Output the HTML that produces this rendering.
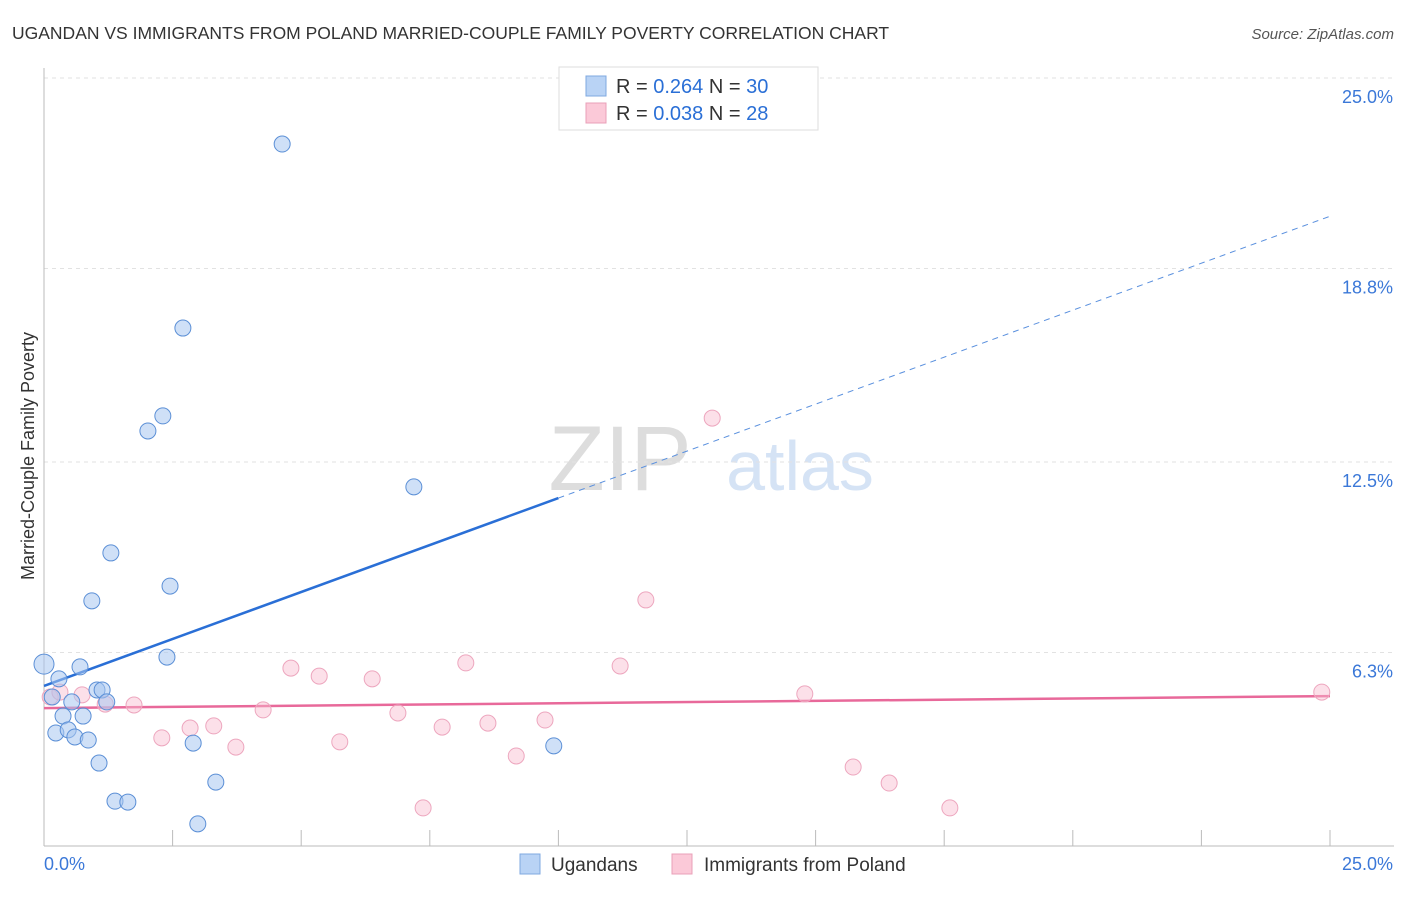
<!DOCTYPE html>
<html><head><meta charset="utf-8"><style>
body{margin:0;background:#fff;font-family:"Liberation Sans",sans-serif;}
svg text{font-family:"Liberation Sans",sans-serif;}
</style></head><body>
<svg id="chart" width="1406" height="892" viewBox="0 0 1406 892">
<text x="12" y="39" font-size="17.5" fill="#333">UGANDAN VS IMMIGRANTS FROM POLAND MARRIED-COUPLE FAMILY POVERTY CORRELATION CHART</text>
<text x="1394" y="39" font-size="15" fill="#555" font-style="italic" text-anchor="end">Source: ZipAtlas.com</text>
<text x="620" y="490" font-size="92" fill="#ddd" font-family="Liberation Serif" text-anchor="middle">ZIP</text>
<text x="800" y="490" font-size="70" fill="#d5e3f5" text-anchor="middle">atlas</text>
<g id="grid"></g>
<g id="axes"></g>
<g id="lines"></g>
<g id="points"></g>
<text transform="translate(34,456) rotate(-90)" font-size="18" fill="#333" text-anchor="middle">Married-Couple Family Poverty</text>
<g>
<rect x="559" y="67" width="259" height="63" fill="#fff" stroke="#ddd"/>
<rect x="586" y="76" width="20" height="20" fill="#b9d3f5" stroke="#7fa8e0"/>
<rect x="586" y="103" width="20" height="20" fill="#fbc9d8" stroke="#eaa0b8"/>
<text x="616" y="93" font-size="20" fill="#333">R = <tspan fill="#2a6fd6">0.264</tspan>   N = <tspan fill="#2a6fd6">30</tspan></text>
<text x="616" y="120" font-size="20" fill="#333">R = <tspan fill="#2a6fd6">0.038</tspan>   N = <tspan fill="#2a6fd6"> 28</tspan></text>
</g>
<g>
<rect x="520" y="854" width="20" height="20" fill="#b9d3f5" stroke="#7fa8e0"/>
<text x="551" y="871" font-size="19" fill="#333">Ugandans</text>
<rect x="672" y="854" width="20" height="20" fill="#fbc9d8" stroke="#eaa0b8"/>
<text x="704" y="871" font-size="19" fill="#333">Immigrants from Poland</text>
</g>
</svg>
<script>
const blueX=[0,0.16,0.29,0.70,0.23,0.37,0.47,0.54,0.60,0.76,0.86,1.03,1.13,1.22,1.07,1.30,0.93,1.38,1.63,2.02,2.31,2.70,2.45,2.39,2.90,3.34,2.99,4.63,7.19,9.91];
const blueY=[5.92,4.85,5.44,5.83,3.68,4.23,3.78,4.69,3.55,4.23,3.45,5.08,5.08,4.69,2.70,9.54,7.98,1.46,1.43,13.51,14.0,16.86,8.46,6.15,3.35,2.08,0.72,22.85,11.69,3.26];
const pinkX=[0.12,0.31,0.74,1.19,1.75,2.29,2.84,3.30,3.73,4.26,4.80,5.35,5.75,6.38,6.88,7.37,7.74,8.20,8.63,9.18,9.74,11.20,11.70,12.99,14.79,15.73,16.43,17.61,24.84];
const pinkY=[4.85,5.01,4.92,4.62,4.59,3.52,3.84,3.91,3.22,4.43,5.79,5.53,3.39,5.44,4.33,1.24,3.87,5.96,4.00,2.93,4.10,5.86,8.01,13.93,4.95,2.57,2.05,1.24,5.01];
const blueTrend=[5.21,20.5];
const pinkTrend=[4.49,4.88];
const yTicks=[25,18.8,12.5,6.3];
const yTickLabels=["25.0%","18.8%","12.5%","6.3%"];
const NS="http://www.w3.org/2000/svg";
const sx=v=>44+v/25*1286;
const sy=v=>846-v/6.25*192;
function mk(tag,attrs,parent){const e=document.createElementNS(NS,tag);for(const k in attrs)e.setAttribute(k,attrs[k]);document.getElementById(parent).appendChild(e);return e;}
yTicks.forEach((t,i)=>{
 const g=mk('line',{x1:44,x2:1394,y1:sy(t),y2:sy(t),stroke:'#e2e2e2','stroke-dasharray':'4,4'},'grid');
 
 
 const tx=mk('text',{x:1393,y:sy(t)+25,'font-size':18,fill:'#3b78d8','text-anchor':'end'},'grid');
 tx.textContent=yTickLabels[i];
 
 
});
const ax=mk('line',{x1:44,x2:44,y1:68,y2:846,stroke:'#bbb'},'axes');


const bx=mk('line',{x1:44,x2:1394,y1:846,y2:846,stroke:'#bbb'},'axes');


for(let i=0;i<=10;i++){
 const t=mk('line',{x1:sx(i*2.5),x2:sx(i*2.5),y1:830,y2:846,stroke:'#bbb'},'axes');
 
 
}
const xl=mk('text',{x:44,y:870,'font-size':18,fill:'#3b78d8'},'axes');xl.textContent='0.0%';


const xr=mk('text',{x:1393,y:870,'font-size':18,fill:'#3b78d8','text-anchor':'end'},'axes');xr.textContent='25.0%';


const bAt=x=>blueTrend[0]+(blueTrend[1]-blueTrend[0])*x/25;
const l1=mk('line',{x1:sx(0),y1:sy(bAt(0)),x2:sx(10),y2:sy(bAt(10)),stroke:'#2a6fd6','stroke-width':2.5},'lines');


const l2=mk('line',{x1:sx(10),y1:sy(bAt(10)),x2:sx(25),y2:sy(bAt(25)),stroke:'#5a90de','stroke-width':1,'stroke-dasharray':'6,5'},'lines');


const l3=mk('line',{x1:sx(0),y1:sy(pinkTrend[0]),x2:sx(25),y2:sy(pinkTrend[1]),stroke:'#e8699a','stroke-width':2.5},'lines');


pinkX.forEach((x,i)=>{
 const c=mk('circle',{cx:sx(x),cy:sy(pinkY[i]),r:8,fill:'rgba(248,187,206,0.45)',stroke:'#eda6be','stroke-width':1},'points');
 
 
});
blueX.forEach((x,i)=>{
 const c=mk('circle',{cx:sx(x),cy:sy(blueY[i]),r:i===0?10:8,fill:'rgba(167,199,241,0.55)',stroke:'#5b8fd6','stroke-width':1},'points');
 
 
});
</script>
</body></html>
